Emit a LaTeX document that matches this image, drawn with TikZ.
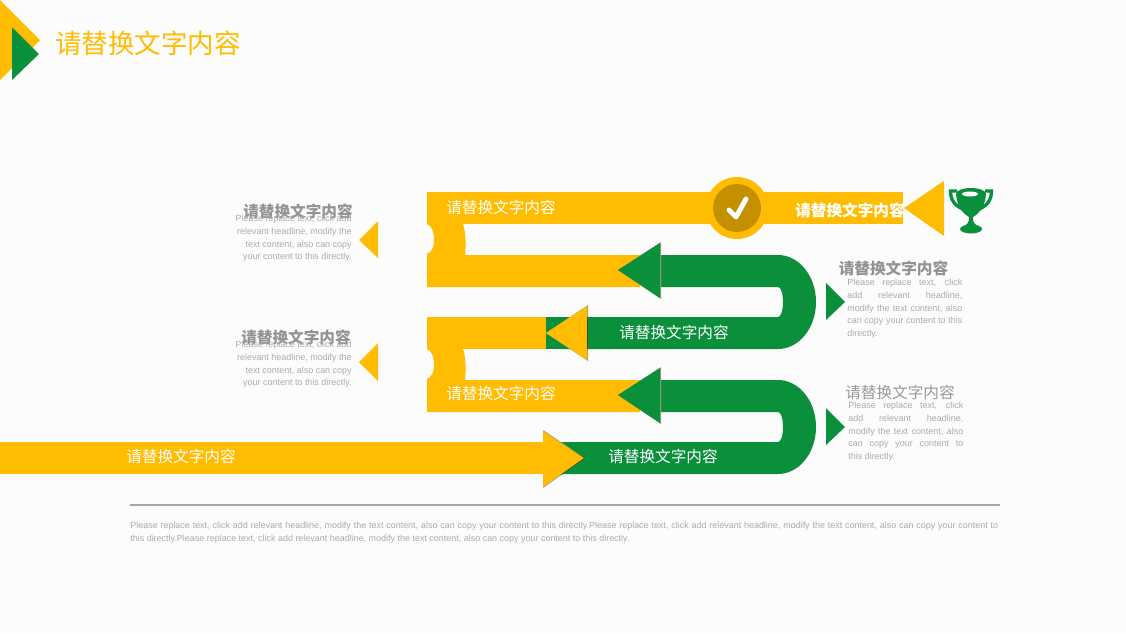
\documentclass[tikz,border=0pt]{standalone}
\usepackage{fontspec}
\setmainfont{Liberation Sans}
\newfontfamily\cjk{Noto Sans CJK SC}
\usepackage{tikz}
\definecolor{amber}{HTML}{FFBC00}
\definecolor{leaf}{HTML}{0A903B}
\definecolor{darkgold}{HTML}{C49000}
\definecolor{edgegray}{HTML}{A09C88}
\definecolor{bodygray}{HTML}{ABABAB}

\begin{document}
\begin{tikzpicture}[x=0.02cm, y=-0.02cm,
        band/.style={font=\cjk\fontsize{8.9}{11}\selectfont, text=white, inner sep=0pt},
        bandbold/.style={band, font=\cjk\bfseries\fontsize{8.9}{11}\selectfont},
        head/.style={font=\cjk\bfseries\fontsize{8.9}{11}\selectfont, text=gray!85, inner sep=0pt},
        headlight/.style={font=\cjk\fontsize{8.9}{11}\selectfont, text=gray!80, inner sep=0pt},
        small/.style={font=\fontsize{5.1}{7.2}\selectfont, text=bodygray, inner sep=0pt},
        smallleft/.style={small, anchor=north east, align=right},
        smallright/.style={small, anchor=north west, text width=2.3cm, align=justify}]
        \useasboundingbox (0,0) rectangle (1126,633);
        \fill[white!99!black] (0,0) rectangle (1126,633);
        \coordinate (C) at (737,208);

        % Corner mark.
        \fill[amber] (0,0) -- (40,40) -- (0,80) -- cycle;
        \fill[leaf] (12,27) -- (39,54) -- (12,80) -- cycle;
        \node[font=\cjk\fontsize{15.1}{18}\selectfont, text=amber, inner sep=0pt] (title) at (148,43) {请替换文字内容};

        % Top band.
        \fill[amber] (427,192) rectangle (903,224);
        \fill[amber] (904,208) -- (944,181) -- (944,236) -- cycle;
        \fill[amber] (C) circle (31);
        \fill[darkgold] (C) circle (24);
        \draw[white, line width=2.8pt, line cap=round, line join=round] (729,210) -- (736,217) -- (746,199);

        % Bends.
        \foreach \dy in {0,125} {
            \begin{scope}[shift={(0,\dy)}]
                \fill[amber] (427,224) .. controls (432,226) and (434,232) .. (434,240) .. controls (434,247) and (432,252) .. (427,254)
                    -- (427,287) -- (640,287) -- (640,255) -- (465,255) .. controls (466,248) and (466,232) .. (463,224) -- cycle;
                \fill[leaf] (650,255) -- (778,255) .. controls (799,255) and (816,276) .. (816,302) .. controls (816,328) and (799,349) .. (778,349)
                    -- (560,349) -- (560,317) -- (778,317) .. controls (781,317) and (783,310) .. (783,302) .. controls (783,294) and (781,287) .. (778,287)
                    -- (650,287) -- cycle;
                \fill[edgegray] (661,242) -- (618,270) -- (661,299) -- cycle;
                \fill[leaf] (660,243) -- (618,270) -- (660,298) -- cycle;
                \fill[leaf] (826,283) -- (845,302) -- (826,320) -- cycle;
            \end{scope}
        }

        % Lower left of the first bend.
        \fill[leaf] (546,317) rectangle (570,349);
        \fill[amber] (427,317) rectangle (546,349);
        \fill[edgegray] (588,305) -- (546,333) -- (588,361) -- cycle;
        \fill[black!60!leaf] (586,317) rectangle (588,349);
        \fill[amber] (587,306) -- (546,333) -- (587,360) -- cycle;

        % Long band.
        \fill[amber] (0,442) rectangle (543,474);
        \fill[edgegray] (543,430) -- (585,458) -- (543,488) -- cycle;
        \fill[black!55!leaf] (559,442) -- (585,458) -- (561,475) -- cycle;
        \fill[amber] (543,431) -- (584,458) -- (543,487) -- cycle;

        % Left triangles.
        \fill[amber] (359,240) -- (378,221) -- (378,258) -- cycle;
        \fill[amber] (359,362) -- (378,343) -- (378,381) -- cycle;

        % Cup.
        \draw[leaf, line width=1.9pt] (957,191) -- (950.5,191) .. controls (950.5,200) and (955,206) .. (963,209);
        \draw[leaf, line width=1.9pt] (985,191) -- (991.5,191) .. controls (991.5,200) and (987,206) .. (979,209);
        \fill[leaf] (956,194) .. controls (957,208) and (964,214) .. (969,217) .. controls (969,222) and (968,224) .. (965,226)
            -- (977,226) .. controls (974,224) and (973,222) .. (973,217) .. controls (978,214) and (985,208) .. (986,194) -- cycle;
        \fill[leaf] (971,194) ellipse (15 and 6);
        \fill[white] (970,194) ellipse (8 and 2.5);
        \fill[leaf] (971,229) ellipse (11 and 4.5);

        % Band labels.
        \node[band] (topl) at (501,208) {请替换文字内容};
        \node[bandbold] (topr) at (850,210) {请替换文字内容};
        \node[band] (greena) at (674,333) {请替换文字内容};
        \node[band] (amberb) at (501,394) {请替换文字内容};
        \node[band] (greenb) at (663,457) {请替换文字内容};
        \node[band] (longl) at (181,457) {请替换文字内容};

        % Side texts.
        \node[head] (heada) at (298,211) {请替换文字内容};
        \node[smallleft] (texta) at (352,215) {Please replace text, click add\\relevant headline, modify the\\text content, also can copy\\your content to this directly.};
        \node[head] (headb) at (296,337) {请替换文字内容};
        \node[smallleft] (textb) at (352,341) {Please replace text, click add\\relevant headline, modify the\\text content, also can copy\\your content to this directly.};
        \node[head] (headc) at (893.5,268) {请替换文字内容};
        \node[smallright] (textc) at (847,279) {Please replace text, click\linebreak add relevant headline,\linebreak modify the text content, also\linebreak can copy your content to this\linebreak directly.};
        \node[headlight] (headd) at (900,393) {请替换文字内容};
        \node[smallright] (textd) at (848,402) {Please replace text, click\linebreak add relevant headline,\linebreak modify the text content, also\linebreak can copy your content to\linebreak this directly.};

        % Rule and note.
        \coordinate (R1) at (130,505);
        \coordinate (R2) at (1000,505);
        \draw[gray!70, line width=0.8pt] (R1) -- (R2);
        \node[small, anchor=north west, text width=17.36cm, align=justify] (note) at (130,522) {Please replace text, click add relevant headline, modify the text content, also can copy your content to this directly.Please replace text, click add relevant headline, modify the text content, also can copy your content to\linebreak this directly.Please replace text, click add relevant headline, modify the text content, also can copy your content to this directly.};
\end{tikzpicture}
\end{document}
